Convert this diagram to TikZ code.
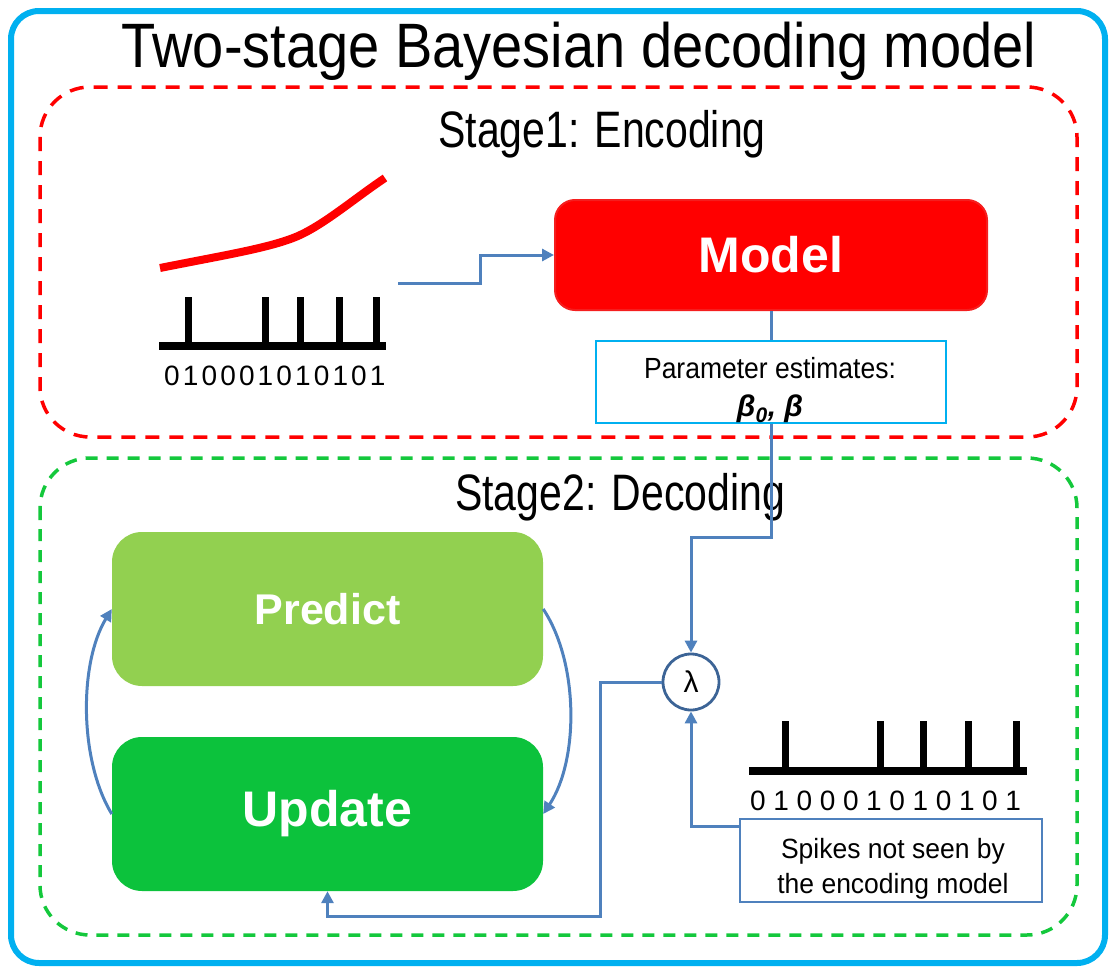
\documentclass[tikz,border=0pt]{standalone}
\usepackage{graphicx}
\usepackage{fontspec}
\setmainfont{Liberation Sans}
\usetikzlibrary{arrows.meta,calc}

\definecolor{frameblue}{RGB}{0,176,240}
\definecolor{linkblue}{RGB}{79,129,189}
\definecolor{ringblue}{RGB}{60,100,150}
\definecolor{stagered}{RGB}{255,0,0}
\definecolor{stagegreen}{RGB}{20,200,60}
\definecolor{modelred}{RGB}{255,0,0}
\definecolor{modeledge}{RGB}{245,30,30}
\definecolor{predictgreen}{RGB}{146,208,80}
\definecolor{updategreen}{RGB}{12,194,60}

% taller-than-wide lettering used for the headings
\newcommand\tallprint[2]{\scalebox{1}[#1]{#2}}

\tikzset{
  outerframe/.style={draw=frameblue, line width=6pt, rounded corners=28pt},
  stageframe/.style={line width=3.5pt, rounded corners=50pt},
  link/.style={draw=linkblue, line width=3pt},
  linkarrow/.style={link, -{Triangle[length=12pt,width=12pt]}},
  bluebox/.style={draw=#1, line width=1.4pt, fill=white, inner sep=0pt},
  blockbox/.style={rounded corners=#1, inner sep=0pt, text=white, font=\bfseries},
  label/.style={anchor=base, inner sep=0pt},
  digit/.style={label, font=\fontsize{28}{28}\selectfont},
  spikeline/.style={line width=8pt},
  spikebar/.style={line width=7pt},
}

\begin{document}
\begin{tikzpicture}[x=1pt,y=-1pt]
\useasboundingbox (0,0) rectangle (1112,969);

% outer frame and title
\draw[outerframe] (11,11) rectangle (1105,963);
\node[label, font=\fontsize{56}{56}\selectfont] (title) at (579,67) {\tallprint{1.12}{Two-stage Bayesian decoding model}};

% stage frames
\draw[stageframe, draw=stagered, dash pattern=on 14pt off 10pt] (40,87) rectangle (1077,437);
\draw[stageframe, draw=stagegreen, dash pattern=on 12pt off 9pt] (40,458) rectangle (1077,935);
\node[label, font=\fontsize{41}{41}\selectfont] (stage1) at (602,147) {\tallprint{1.25}{Stage1: Encoding}};
\node[label, font=\fontsize{41}{41}\selectfont] (stage2) at (620,510) {\tallprint{1.25}{Stage2: Decoding}};

% stage 1: rate curve and training spike train
\draw[stagered, line width=8pt] (160,268) .. controls (225,255) and (270,248) .. (298,236)
  .. controls (325,224) and (355,198) .. (385,178);
\draw[spikeline] (159,346) -- (386,346);
\foreach \x in {188,265,300,339,376} \draw[spikebar] (\x,346) -- (\x,297);
\foreach \d [count=\i from 0] in {0,1,0,0,0,1,0,1,0,1,0,1}
  \node[digit] (da\i) at ({172+18.7*\i},385) {\d};
\coordinate (trainout) at (398,283);

% encoding model and its estimates
\node[blockbox=20pt, fill=modelred, draw=modeledge, line width=2pt, minimum width=432pt, minimum height=110pt, font=\fontsize{50}{50}\selectfont\bfseries] (model) at (771,255) {Model};
\node[bluebox=frameblue, minimum width=350pt, minimum height=82pt] (params) at (771,382) {};
\node[label, font=\fontsize{26.5}{26.5}\selectfont] (ptext) at (770,378) {\tallprint{1.1}{Parameter estimates:}};
\node[label, font=\fontsize{30}{30}\selectfont\bfseries\itshape] (pbeta) at (770,416) {β\textsubscript{0}, β};

\draw[linkarrow] (trainout) -- ++(82,0) |- (model.west);
\draw[link] (model.south) -- (params.north);

% stage 2: predict / update loop
\node[blockbox=30pt, fill=predictgreen, minimum width=431pt, minimum height=154pt, font=\fontsize{43}{43}\selectfont\bfseries] (predict) at (327.5,609) {Predict};
\node[blockbox=30pt, fill=updategreen, minimum width=431pt, minimum height=154pt, font=\fontsize{50}{50}\selectfont\bfseries] (update) at (327.5,814) {Update};

\draw[linkarrow] (update.west) .. controls (79,760) and (79,663) .. (predict.west);
\draw[linkarrow] (predict.east) .. controls (579,663) and (579,760) .. (update.east);

% conditional intensity
\node[circle, draw=ringblue, line width=2.8pt, fill=white, minimum size=56pt, inner sep=0pt, font=\fontsize{30}{30}\selectfont] (lam) at (691,682) {λ};

% test spike train
\draw[spikeline] (749,771) -- (1027,771);
\foreach \x in {785,880,923,968,1016} \draw[spikebar] (\x,771) -- (\x,721);
\foreach \d [count=\i from 0] in {0,1,0,0,0,1,0,1,0,1,0,1}
  \node[digit] (db\i) at ({758+23.2*\i},810) {\d};
\node[bluebox=linkblue, minimum width=302pt, minimum height=83pt] (unseen) at (891,860.5) {};
\node[label, font=\fontsize{26.5}{26.5}\selectfont] (utext1) at (893,858) {\tallprint{1.05}{Spikes not seen by}};
\node[label, font=\fontsize{26.5}{26.5}\selectfont] (utext2) at (893,893) {\tallprint{1.05}{the encoding model}};

% connectors into and out of the intensity
\draw[linkarrow] (params.south) -- ++(0,114) -| (lam.north);
\draw[linkarrow] ([yshift=-8pt]unseen.north west) -| (lam.south);
\draw[linkarrow] (lam.west) -- ++(-61,0) -- ++(0,234) -| (update.south);
\end{tikzpicture}
\end{document}
